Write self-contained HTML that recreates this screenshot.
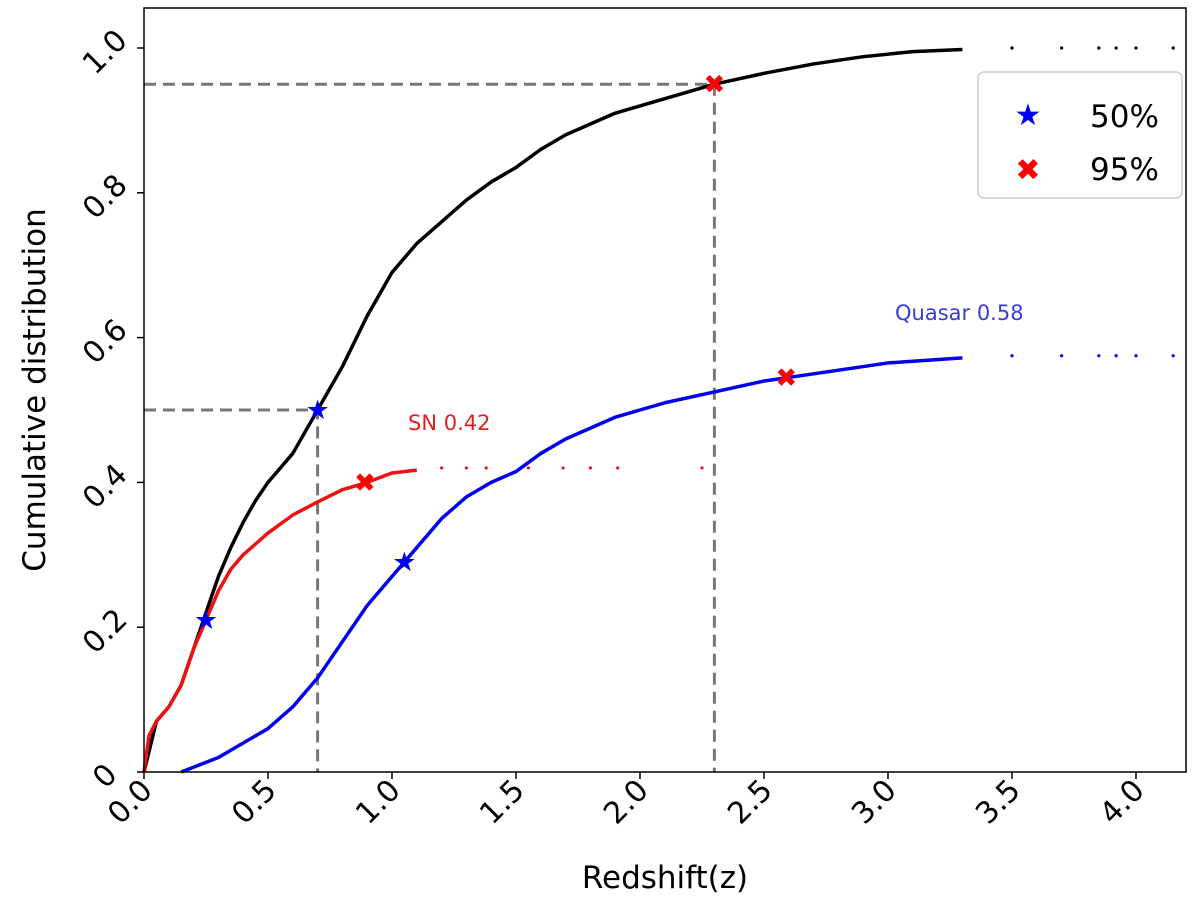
<!DOCTYPE html>
<html><head><meta charset="utf-8"><style>
body{margin:0;background:#fff;}
svg text{font-family:"DejaVu Sans","Liberation Sans",sans-serif;}
</style></head><body>
<svg id="chart" width="1200" height="898" viewBox="0 0 1200 898" xmlns="http://www.w3.org/2000/svg">
<g id="marks"></g>
<rect x="144" y="8" width="1042" height="764" fill="none" stroke="#000" stroke-width="1.5"/>
<g id="axes"></g>
<text x="665" y="888" font-size="31" text-anchor="middle">Redshift(z)</text>
<text transform="translate(45,390) rotate(-90)" font-size="31" text-anchor="middle">Cumulative distribution</text>
<text x="408" y="430" font-size="21" fill="#e02020" font-family="Liberation Sans">SN 0.42</text>
<text x="895" y="320" font-size="21" fill="#3a3ad8" font-family="Liberation Sans">Quasar 0.58</text>
<g>
<rect x="978" y="72" width="204" height="126" rx="6" fill="#fff" stroke="#ccc" stroke-width="1.5"/>
<text x="1028" y="125" font-size="30" fill="#0000ee" text-anchor="middle">★</text>
<text x="1090" y="127" font-size="31">50%</text>
<text x="1028" y="180" font-size="30" fill="#ff0000" text-anchor="middle" font-weight="bold">✖</text>
<text x="1090" y="180" font-size="31">95%</text>
</g>
</svg>
<script>
const allZ=[0,0.05,0.1,0.15,0.2,0.25,0.3,0.35,0.4,0.45,0.5,0.6,0.7,0.8,0.9,1.0,1.1,1.2,1.3,1.4,1.5,1.6,1.7,1.8,1.9,2.0,2.1,2.2,2.3,2.5,2.7,2.9,3.1,3.3];
const allC=[0,0.07,0.09,0.12,0.17,0.22,0.27,0.31,0.345,0.375,0.40,0.44,0.5,0.56,0.63,0.69,0.73,0.76,0.79,0.815,0.835,0.86,0.88,0.895,0.91,0.92,0.93,0.94,0.95,0.965,0.978,0.988,0.995,0.998];
const allTailZ=[3.5,3.7,3.85,3.92,4.0,4.15];const allTailC=1.0;
const snZ=[0,0.02,0.05,0.1,0.15,0.2,0.25,0.3,0.35,0.4,0.5,0.6,0.7,0.8,0.9,1.0,1.1];
const snC=[0,0.05,0.07,0.09,0.12,0.17,0.21,0.25,0.28,0.30,0.33,0.355,0.373,0.39,0.40,0.413,0.417];
const snTailZ=[1.2,1.3,1.38,1.55,1.69,1.8,1.91,2.25];const snTailC=0.42;
const qZ=[0.15,0.3,0.4,0.5,0.6,0.7,0.8,0.9,1.0,1.05,1.1,1.2,1.3,1.4,1.5,1.6,1.7,1.8,1.9,2.0,2.1,2.3,2.5,2.6,2.8,3.0,3.3];
const qC=[0,0.02,0.04,0.06,0.09,0.13,0.18,0.23,0.27,0.29,0.31,0.35,0.38,0.40,0.415,0.44,0.46,0.475,0.49,0.50,0.51,0.525,0.54,0.545,0.555,0.565,0.572];
const qTailZ=[3.5,3.7,3.85,3.92,4.0,4.15];const qTailC=0.575;
const stars=[[0.7,0.5],[0.25,0.21],[1.05,0.29]];
const crosses=[[2.3,0.95],[0.89,0.40],[2.59,0.545]];
const xTicks=[0,0.5,1.0,1.5,2.0,2.5,3.0,3.5,4.0];
const xTickLabels=["0.0","0.5","1.0","1.5","2.0","2.5","3.0","3.5","4.0"];
const yTicks=[0,0.2,0.4,0.6,0.8,1.0];
const yTickLabels=["0","0.2","0.4","0.6","0.8","1.0"];
const X=z=>144+z*248, Y=c=>772-c*724;
const NS="http://www.w3.org/2000/svg";
const marks=document.getElementById('marks'),axes=document.getElementById('axes');
function mk(t,a,p){const e=document.createElementNS(NS,t);for(const k in a)e.setAttribute(k,a[k]);p.appendChild(e);return e;}
let g=mk('path',{d:`M144 ${Y(0.95)}H${X(2.3)}V772M144 ${Y(0.5)}H${X(0.7)}V772`,fill:'none',stroke:'#777','stroke-width':3,'stroke-dasharray':'12 7'},marks);


function line(zs,cs,col,name){const p=mk('polyline',{points:zs.map((z,i)=>X(z)+','+Y(cs[i])).join(' '),fill:'none',stroke:col,'stroke-width':3.5,'stroke-linejoin':'round'},marks);

}
function dots(zs,c,col,name){zs.forEach(z=>{const d=mk('circle',{cx:X(z),cy:Y(c),r:1.6,fill:col},marks);

});}
line(allZ,allC,'#000','all-cdf-line');dots(allTailZ,allTailC,'#000','all-tail-dot');
line(qZ,qC,'#0000ee','quasar-cdf-line');dots(qTailZ,qTailC,'#0000ee','quasar-tail-dot');
line(snZ,snC,'#ee1111','sn-cdf-line');dots(snTailZ,snTailC,'#ee1111','sn-tail-dot');
stars.forEach(s=>{const t=mk('text',{x:X(s[0]),y:Y(s[1])+9,'font-size':27,fill:'#0000ee','text-anchor':'middle'},marks);t.textContent='★';

});
crosses.forEach(s=>{const t=mk('text',{x:X(s[0]),y:Y(s[1])+9,'font-size':26,fill:'#ff0000','text-anchor':'middle','font-weight':'bold'},marks);t.textContent='✖';

});
xTicks.forEach((v,i)=>{mk('line',{x1:X(v),x2:X(v),y1:772,y2:779,stroke:'#000','stroke-width':1.5},axes);
const t=mk('text',{transform:`translate(${X(v)+10},${792}) rotate(-45)`,'font-size':30,'text-anchor':'end'},axes);t.textContent=xTickLabels[i];

});
yTicks.forEach((v,i)=>{mk('line',{x1:137,x2:144,y1:Y(v),y2:Y(v),stroke:'#000','stroke-width':1.5},axes);
const t=mk('text',{transform:`translate(${112},${Y(v)+11}) rotate(-45)`,'font-size':30,'text-anchor':'middle'},axes);t.textContent=yTickLabels[i];

});
</script>
</body></html>
